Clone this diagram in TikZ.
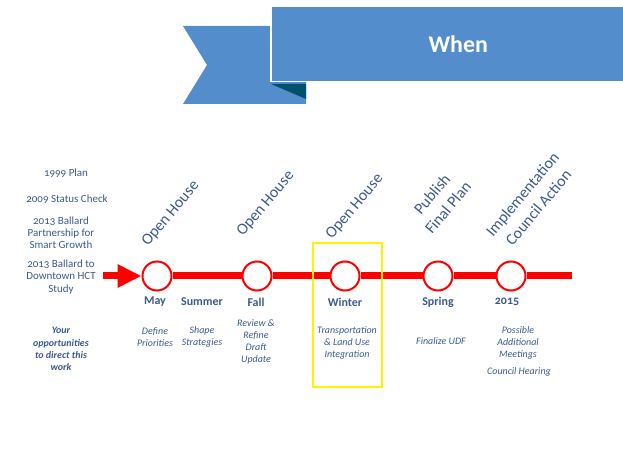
\documentclass[tikz,border=0pt]{standalone}
\usepackage{fontspec}
\setmainfont{Carlito}[Numbers=OldStyle]
\usepackage{tikz}
\usetikzlibrary{arrows.meta}
\usepackage{xcolor}
\definecolor{textblue}{RGB}{59,89,143}
\definecolor{banner}{RGB}{83,141,204}
\definecolor{bannerdark}{RGB}{0,80,110}

\begin{document}
\begin{tikzpicture}[x=1bp,y=-1bp,
    txt/.style={font=\fontsize{11}{12.2}\selectfont, text=textblue,
        align=center, inner sep=0pt},
    desc/.style={font=\fontsize{10}{11.8}\selectfont\itshape, text=textblue,
        align=center, inner sep=0pt},
    month/.style={font=\fontsize{12}{14}\selectfont\bfseries, text=textblue,
        inner sep=0pt},
    event/.style={font=\fontsize{16}{21}\selectfont, text=textblue,
        align=center, rotate=50, anchor=base west, inner sep=0pt},
    milestone/.style={circle, draw=red, line width=2bp, fill=white,
        minimum size=29bp, inner sep=0pt},
    track/.style={red, line width=7bp},
    highlight/.style={draw=yellow, line width=2bp}]
    \useasboundingbox (0,0) rectangle (623,472);

    \fill[banner] (183,26) -- (306,26) -- (306,104) -- (183,104) -- (207,65) -- cycle;
    \fill[bannerdark] (271,84) -- (306,84) -- (306,99) -- cycle;
    \node[fill=banner, draw=white, line width=1.5bp, anchor=north west,
        minimum width=375bp, minimum height=75bp, text=white,
        font=\fontsize{24}{28}\selectfont\bfseries] (when) at (270,6) {When};

    \node[txt] (p1999) at (66,173) {1999 Plan};
    \node[txt] (p2009) at (67,199) {2009 Status Check};
    \node[txt] (p2013a) at (61,233) {2013 Ballard\\Partnership for\\Smart Growth};
    \node[txt] (p2013b) at (61,277) {2013 Ballard to\\Downtown HCT\\Study};
    \node[desc, font=\fontsize{10}{12.2}\selectfont\bfseries\itshape] (yours)
        at (61,349) {Your\\opportunities\\to direct this\\work};

    \node[milestone] (may) at (157,276) {};
    \node[milestone] (fall) at (257,276) {};
    \node[milestone] (winter) at (345,276) {};
    \node[milestone] (spring) at (438,276) {};
    \node[milestone] (y2015) at (511,276) {};
    \coordinate (start) at (103,276);
    \coordinate (finish) at (572,276);

    \draw[track, -{Triangle[length=24bp,width=22bp]}] (start) -- (may.west);
    \draw[track] (may) -- (fall) -- (winter) -- (spring) -- (y2015) -- (finish);

    \node[event] (oh1) at (148,247) {Open House};
    \node[event] (oh2) at (243,237) {Open House};
    \node[event] (oh3) at (332,240) {Open House};
    \node[event] (publish) at (432,235) {Publish\\Final Plan};
    \node[event] (council) at (509,251) {Implementation\\Council Action};

    \node[month] (m-may) at (155,302) {May};
    \node[month] (m-summer) at (202,302) {Summer};
    \node[month] (m-fall) at (256,302) {Fall};
    \node[month] (m-winter) at (345,302) {Winter};
    \node[month] (m-spring) at (438,302) {Spring};
    \node[month] (m-2015) at (507,302) {2015};

    \node[desc] (define) at (155,337) {Define\\Priorities};
    \node[desc] (shape) at (202,337) {Shape\\Strategies};
    \node[desc] (review) at (256,342) {Review \&\\Refine\\Draft\\Update};
    \node[desc] (transport) at (347,343) {Transportation\\\& Land Use\\Integration};
    \node[desc] (finalize) at (441,341) {Finalize UDF};
    \node[desc] (possible) at (518,343) {Possible\\Additional\\Meetings};
    \node[desc] (hearing) at (519,372) {Council Hearing};

    \draw[highlight] (313,243) rectangle (382,387);
\end{tikzpicture}
\end{document}
